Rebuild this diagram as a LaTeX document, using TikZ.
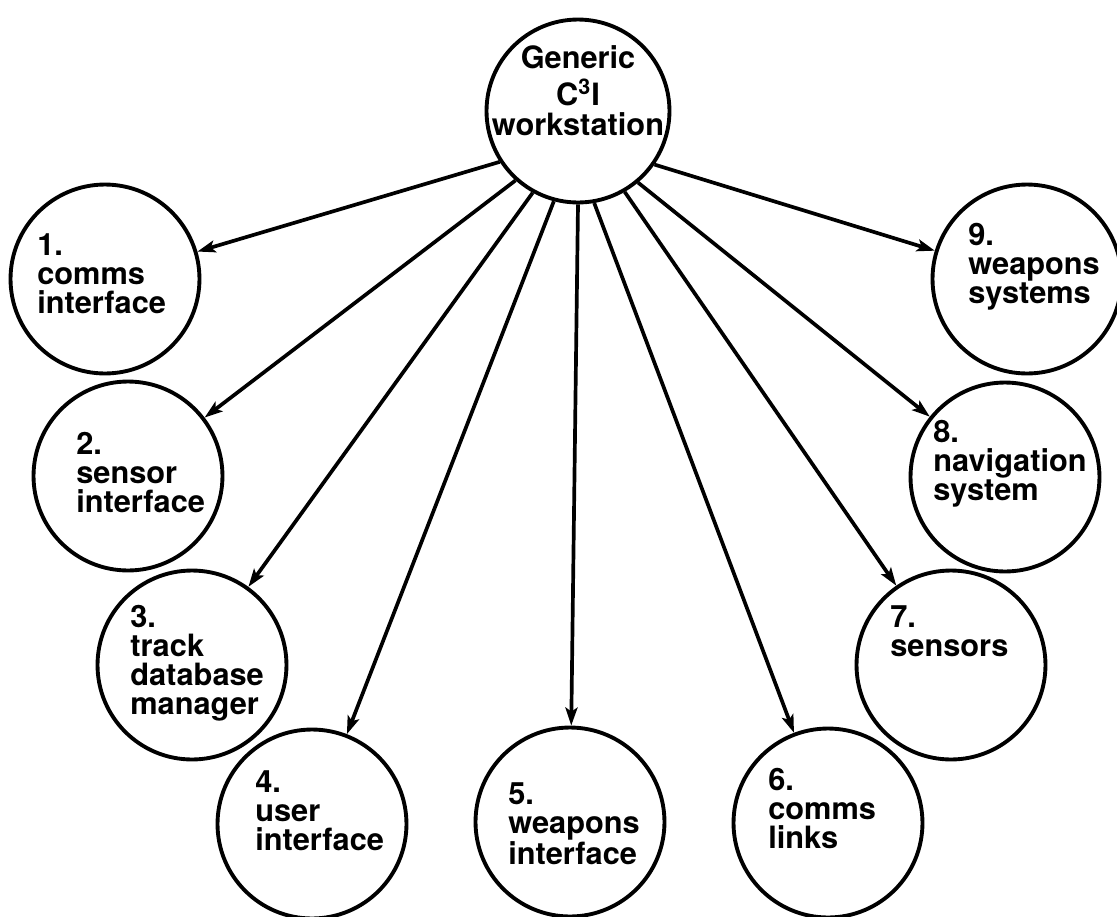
\documentclass[tikz,border=0pt]{standalone}
\usepackage{fontspec}
\setmainfont{TeX Gyre Heros}
\usetikzlibrary{positioning,arrows.meta}
\tikzset{
  >={Stealth[length=3.6mm,width=2.4mm,inset=0.8mm]},
}
\begin{document}
\begin{tikzpicture}[x=0.02cm, y=-0.02cm]
    \tikzset{
        mynode/.style={circle, draw=black, line width=2.2pt, minimum size=3.78cm, inner sep=0pt},
        mytext/.style={anchor=north west, align=left, inner sep=0pt, font=\bfseries\fontsize{17.5}{16.5}\selectfont},
        myarrow/.style={draw, line width=2.1pt, ->},
    }
    \useasboundingbox (0,0) rectangle (1117,917);

    % circles
    \node[mynode, minimum size=3.66cm] (item0) at (578,111) {};
    \node[mynode] (item1) at (105,279) {};
    \node[mynode] (item2) at (128,476) {};
    \node[mynode] (item3) at (192,665) {};
    \node[mynode] (item4) at (312,824) {};
    \node[mynode] (item5) at (570,822) {};
    \node[mynode] (item6) at (828,823) {};
    \node[mynode] (item7) at (951,665) {};
    \node[mynode] (item8) at (1005,477) {};
    \node[mynode] (item9) at (1027,279) {};

    % texts
    \node[mytext, anchor=north, align=center, font=\bfseries\fontsize{17.5}{17}\selectfont] (text0) at (578,45) {Generic\\[4pt]C\textsuperscript{3}I\\workstation};
    \node[mytext] (text1) at (37,233) {1.\\comms\\interface};
    \node[mytext] (text2) at (76,432) {2.\\sensor\\interface};
    \node[mytext] (text3) at (130,605) {3.\\track\\database\\manager};
    \node[mytext] (text4) at (255,770) {4.\\user\\interface};
    \node[mytext] (text5) at (508,782) {5.\\weapons\\interface};
    \node[mytext] (text6) at (768,768) {6.\\comms\\links};
    \node[mytext] (text7) at (890,605) {7.\\sensors};
    \node[mytext] (text8) at (933,420) {8.\\navigation\\system};
    \node[mytext] (text9) at (968,223) {9.\\weapons\\systems};

    % arrows
    \draw[myarrow] (item0.213) -- (item1);
    \draw[myarrow] (item0.228) -- (item2);
    \draw[myarrow] (item0.241) -- (item3);
    \draw[myarrow] (item0.255) -- (item4);
    \draw[myarrow] (item0.270) -- (item5);
    \draw[myarrow] (item0.280) -- (item6);
    \draw[myarrow] (item0.300) -- (item7);
    \draw[myarrow] (item0.310) -- (item8);
    \draw[myarrow] (item0.325) -- (item9);
\end{tikzpicture}
\end{document}
